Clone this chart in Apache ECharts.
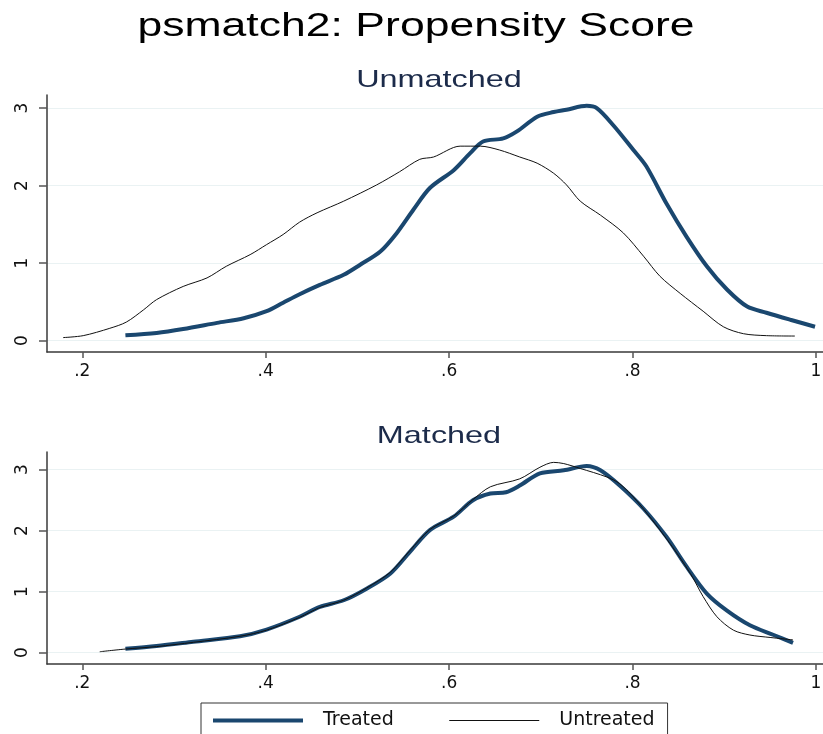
<!DOCTYPE html>
<html>
<head>
<meta charset="utf-8">
<title>psmatch2: Propensity Score</title>
<script src="https://cdn.jsdelivr.net/npm/echarts@6/dist/echarts.min.js"></script>
<style>
  html, body { margin: 0; padding: 0; background: #fff; }
  #chart { width: 823px; height: 734px; }
</style>
</head>
<body>
<div id="chart"></div>
<script>
// kernel density of the propensity score
var unmatchedTreatedX = [0.247, 0.281, 0.310, 0.347, 0.376, 0.401, 0.419, 0.437, 0.459, 0.485, 0.503, 0.525, 0.543, 0.561, 0.579, 0.605, 0.623, 0.637, 0.659, 0.674, 0.696, 0.714, 0.728, 0.750, 0.761, 0.779, 0.801, 0.815, 0.837, 0.859, 0.881, 0.903, 0.925, 0.946, 0.972, 0.999]
var unmatchedTreatedY = [0.07, 0.10, 0.15, 0.23, 0.29, 0.38, 0.49, 0.60, 0.72, 0.85, 0.98, 1.15, 1.39, 1.69, 1.97, 2.20, 2.42, 2.57, 2.61, 2.70, 2.89, 2.95, 2.98, 3.03, 3.00, 2.78, 2.46, 2.25, 1.77, 1.34, 0.96, 0.66, 0.44, 0.36, 0.27, 0.18]

var unmatchedUntreatedX = [0.179, 0.201, 0.230, 0.248, 0.267, 0.281, 0.310, 0.336, 0.357, 0.383, 0.401, 0.419, 0.437, 0.456, 0.485, 0.521, 0.546, 0.568, 0.583, 0.612, 0.634, 0.655, 0.677, 0.696, 0.714, 0.728, 0.743, 0.765, 0.790, 0.812, 0.830, 0.852, 0.877, 0.899, 0.921, 0.946, 0.977]
var unmatchedUntreatedY = [0.04, 0.065, 0.16, 0.24, 0.40, 0.53, 0.70, 0.81, 0.96, 1.11, 1.24, 1.37, 1.53, 1.65, 1.80, 2.01, 2.18, 2.34, 2.37, 2.51, 2.51, 2.46, 2.37, 2.29, 2.16, 2.01, 1.80, 1.62, 1.39, 1.09, 0.83, 0.61, 0.38, 0.18, 0.09, 0.065, 0.06]

var matchedTreatedX = [0.247, 0.281, 0.321, 0.372, 0.401, 0.437, 0.459, 0.485, 0.510, 0.536, 0.557, 0.579, 0.605, 0.626, 0.645, 0.662, 0.677, 0.699, 0.725, 0.750, 0.765, 0.786, 0.812, 0.837, 0.859, 0.881, 0.903, 0.928, 0.954, 0.975]
var matchedTreatedY = [0.065, 0.11, 0.18, 0.27, 0.38, 0.59, 0.75, 0.86, 1.05, 1.30, 1.65, 2.01, 2.23, 2.50, 2.61, 2.63, 2.74, 2.94, 2.99, 3.06, 2.99, 2.74, 2.36, 1.90, 1.41, 0.97, 0.69, 0.45, 0.29, 0.16]

var matchedUntreatedX = [0.219, 0.247, 0.281, 0.321, 0.372, 0.401, 0.437, 0.459, 0.485, 0.510, 0.536, 0.557, 0.579, 0.605, 0.626, 0.645, 0.677, 0.699, 0.714, 0.725, 0.743, 0.772, 0.786, 0.804, 0.837, 0.863, 0.877, 0.892, 0.910, 0.928, 0.950, 0.975]
var matchedUntreatedY = [0.016, 0.06, 0.10, 0.17, 0.27, 0.37, 0.58, 0.74, 0.86, 1.06, 1.32, 1.67, 2.02, 2.24, 2.51, 2.72, 2.85, 3.04, 3.12, 3.10, 3.02, 2.88, 2.77, 2.50, 1.87, 1.30, 0.92, 0.59, 0.37, 0.29, 0.25, 0.21]

var xTicks = [0.2, 0.4, 0.6, 0.8, 1]
var xTickLabels = ['.2', '.4', '.6', '.8', '1']
var yTicks = [0, 1, 2, 3]
var yTickLabels = ['0', '1', '2', '3']
var seriesNames = ['Treated', 'Untreated']
var panelTitles = ['Unmatched', 'Matched']

var navy = '#1a476f'
var ink = '#3a3a3a'
var labelFont = 'DejaVu Sans'

function pairs(xs, ys) {
  return xs.map(function (x, i) { return [x, ys[i]] })
}

function lookup(ticks, labels) {
  return function (v) {
    for (var i = 0; i < ticks.length; i++) {
      if (Math.abs(ticks[i] - v) < 1e-9) return labels[i]
    }
    return ''
  }
}

function xAxis(i) {
  return {
    type: 'value',
    gridIndex: i,
    min: 0.1615,
    max: 1.0077,
    axisLine: { show: true, onZero: false, lineStyle: { color: ink, width: 1.5 } },
    axisTick: { show: true, length: 6, customValues: xTicks, lineStyle: { color: '#555', width: 1.5 } },
    axisLabel: {
      customValues: xTicks,
      formatter: lookup(xTicks, xTickLabels),
      fontSize: 17,
      fontFamily: labelFont,
      color: '#111',
      margin: 11
    },
    splitLine: { show: false }
  }
}

function yAxis(i, min, max) {
  return {
    type: 'value',
    gridIndex: i,
    min: min,
    max: max,
    axisLine: { show: true, onZero: false, lineStyle: { color: ink, width: 1.5 } },
    axisTick: { show: true, length: 8, customValues: yTicks, lineStyle: { color: '#555', width: 1.5 } },
    axisLabel: {
      customValues: yTicks,
      formatter: lookup(yTicks, yTickLabels),
      rotate: 90,
      fontSize: 17,
      fontFamily: labelFont,
      color: '#111',
      margin: 16
    },
    splitLine: { show: true, lineStyle: { color: '#eaf2f3', width: 1 } }
  }
}

function curve(name, i, data, color, width) {
  return {
    name: name,
    type: 'line',
    xAxisIndex: i,
    yAxisIndex: i,
    data: data,
    symbol: 'none',
    smooth: 0.3,
    lineStyle: { color: color, width: width },
    itemStyle: { color: color },
    animation: false
  }
}

function heading(text, x, y, size, color) {
  return {
    type: 'text',
    x: x,
    y: y,
    scaleX: 1.35,
    style: {
      text: text,
      font: size + 'px "Liberation Sans", Arial, sans-serif',
      fill: color,
      align: 'center',
      verticalAlign: 'middle',
      textAlign: 'center',
      textVerticalAlign: 'middle'
    }
  }
}

var chart = echarts.init(document.getElementById('chart'))

chart.setOption({
  backgroundColor: '#fff',
  animation: false,
  graphic: [
    heading('psmatch2: Propensity Score', 416, 27, 33, '#000'),
    heading(panelTitles[0], 439, 80, 24, '#1c2b4a'),
    heading(panelTitles[1], 439, 436, 24, '#1c2b4a')
  ],
  grid: [
    { left: 47, top: 95, right: 0, height: 257, outerBoundsMode: 'none' },
    { left: 47, top: 452, right: 0, height: 212, outerBoundsMode: 'none' }
  ],
  xAxis: [xAxis(0), xAxis(1)],
  yAxis: [yAxis(0, -0.146, 3.17), yAxis(1, -0.185, 3.29)],
  legend: {
    left: 201,
    top: 703,
    itemWidth: 90,
    itemHeight: 14,
    itemGap: 55,
    borderColor: '#333',
    borderWidth: 1,
    padding: [8, 13, 24, 10],
    textStyle: { fontSize: 19, fontFamily: labelFont, color: '#111', padding: [0, 0, 0, 15] },
    lineStyle: { width: 'inherit' },
    itemStyle: { opacity: 0 },
    data: seriesNames
  },
  series: [
    curve(seriesNames[0], 0, pairs(unmatchedTreatedX, unmatchedTreatedY), navy, 4),
    curve(seriesNames[1], 0, pairs(unmatchedUntreatedX, unmatchedUntreatedY), '#111', 1),
    curve(seriesNames[0], 1, pairs(matchedTreatedX, matchedTreatedY), navy, 4),
    curve(seriesNames[1], 1, pairs(matchedUntreatedX, matchedUntreatedY), '#111', 1)
  ]
})
</script>
</body>
</html>
